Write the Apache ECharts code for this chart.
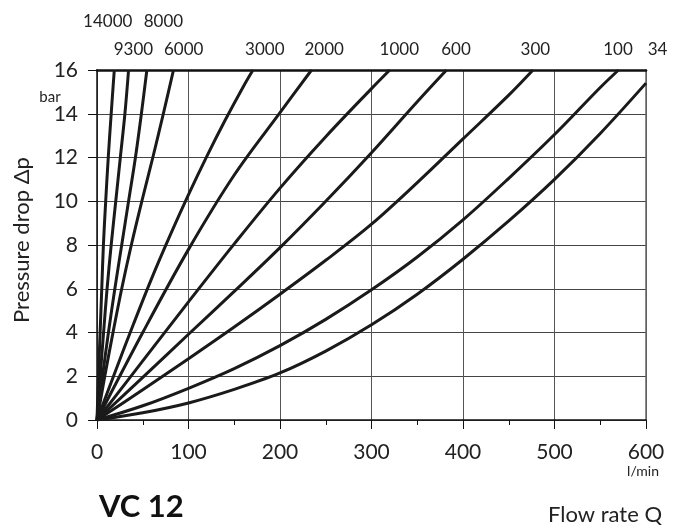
<!DOCTYPE html>
<html><head><meta charset="utf-8">
<script src="https://cdn.jsdelivr.net/npm/echarts@6/dist/echarts.min.js"></script>
<style>html,body{margin:0;padding:0;background:#fff}#c{width:674px;height:529px}</style>
</head><body><div id="c"></div>
<script>
// Viscosity labels (one per curve), left to right
const viscosities = ['14000','9300','8000','6000','3000','2000','1000','600','300','100','34'];
// Curves: [flow rate Q (l/min), pressure drop Δp (bar)]
const c14000 = [[0,0],[1.6,2],[3.4,4],[5.2,6],[7,8],[9.5,10],[12.3,12],[15.5,14],[18.9,16]];
const c9300  = [[0,0],[3.5,2],[7.2,4],[11,6],[15.5,8],[20.5,10],[25.5,12],[30.5,14],[34.5,16]];
const c8000  = [[0,0],[6,2],[12.5,4],[19.5,6],[27,8],[34.5,10],[42,12],[48.5,14],[54.5,16]];
const c6000  = [[0,0],[8.5,2],[17.5,4],[27,6],[37.5,8],[49,10],[61,12],[72.5,14],[83.6,16]];
const c3000  = [[0,0],[20,2.22],[40,4.4],[60,6.5],[80,8.45],[100,10.3],[120,12.05],[140,13.7],[160,15.25],[170.5,16]];
const c2000  = [[0,0],[50,4.0],[100,7.8],[150,11.2],[200,14.05],[234.5,16]];
const c1000  = [[0,0],[50,2.7],[100,5.4],[150,8.05],[200,10.6],[250,12.95],[300,15.15],[320,16]];
const c600   = [[0,0],[50,1.95],[100,3.92],[150,5.88],[200,7.88],[250,10.0],[300,12.22],[350,14.55],[382,16]];
const c300   = [[0,0],[50,1.38],[100,2.8],[150,4.25],[200,5.75],[250,7.3],[300,8.95],[350,10.85],[400,12.85],[450,14.85],[476.5,16]];
const c100   = [[0,0],[50,0.65],[100,1.45],[150,2.35],[200,3.4],[250,4.6],[300,5.95],[350,7.45],[400,9.15],[450,11.05],[500,13.05],[550,15.2],[570,16]];
const c34    = [[0,0],[50,0.33],[100,0.78],[150,1.4],[200,2.15],[250,3.15],[300,4.35],[350,5.75],[400,7.35],[450,9.1],[500,11.0],[550,13.1],[600,15.4]];
const curves = [c14000,c9300,c8000,c6000,c3000,c2000,c1000,c600,c300,c100,c34];

// Layout of the viscosity labels above the plot (pixel positions)
const labelLayout = [[107.7,22],[133.4,50],[163.4,22],[183.7,50],[264.8,50],[324.2,50],[399.3,50],[456,50],[535.4,50],[618,50],[657.6,50]];

const font = 'Lato, "Open Sans", "DejaVu Sans", sans-serif';
const txt = '#222';

const chart = echarts.init(document.getElementById('c'), null, {renderer:'canvas'});

const graphics = viscosities.map((v,i)=>({
  type:'text', x:labelLayout[i][0], y:labelLayout[i][1], silent:true,
  style:{text:v, fill:txt, fontSize:17, fontFamily:font, textAlign:'center', textVerticalAlign:'middle'}
}));
graphics.push(
  {type:'text', x:50, y:97, style:{text:'bar', fill:txt, fontSize:15, fontFamily:font, textAlign:'center', textVerticalAlign:'middle'}},
  {type:'text', x:22, y:240, rotation:Math.PI/2, style:{text:'Pressure drop Δp', fill:txt, fontSize:22, fontFamily:font, textAlign:'center', textVerticalAlign:'middle'}},
  {type:'text', x:659, y:471, style:{text:'l/min', fill:txt, fontSize:14, fontFamily:font, textAlign:'right', textVerticalAlign:'middle'}},
  {type:'text', x:99, y:507, style:{text:'VC 12', fill:'#111', fontSize:31, fontWeight:'bold', fontFamily:font, textAlign:'left', textVerticalAlign:'middle'}},
  {type:'text', x:662, y:515, style:{text:'Flow rate Q', fill:txt, fontSize:22, fontFamily:font, textAlign:'right', textVerticalAlign:'middle'}}
);

const option = {
  animation:false,
  grid:{left:97, right:28, top:70, bottom:109},
  xAxis:[
    {type:'value', min:0, max:600, interval:100,
     axisLine:{onZero:false, lineStyle:{color:'#111', width:1.5}},
     axisTick:{show:true, length:9, lineStyle:{color:'#111', width:1}},
     minorTick:{show:true, splitNumber:2, length:5, lineStyle:{color:'#111', width:1}},
     splitLine:{show:true, lineStyle:{color:'#555', width:1}},
     minorSplitLine:{show:false},
     axisLabel:{color:txt, fontSize:21, fontFamily:font, margin:22}},
    {type:'value', position:'top', min:0, max:600, interval:100,
     axisLine:{show:true, onZero:false, lineStyle:{color:'#111', width:2.5}},
     axisTick:{show:false}, axisLabel:{show:false}, splitLine:{show:false}}
  ],
  yAxis:[
    {type:'value', min:0, max:16, interval:2,
     axisLine:{show:true, onZero:false, lineStyle:{color:'#111', width:1.5}},
     axisTick:{show:true, length:9, lineStyle:{color:'#111', width:1}},
     splitLine:{show:true, lineStyle:{color:'#444', width:1}},
     axisLabel:{color:txt, fontSize:21, fontFamily:font, margin:19}},
    {type:'value', position:'right', min:0, max:16, interval:2,
     axisLine:{show:true, onZero:false, lineStyle:{color:'#666', width:1.5}},
     axisTick:{show:false}, axisLabel:{show:false}, splitLine:{show:false}}
  ],
  series: curves.map((d,i)=>({
    name:viscosities[i], type:'line', data:d, smooth:0.35, showSymbol:false, silent:true,
    clip:true, lineStyle:{color:'#1a1a1a', width:3}
  })),
  graphic: graphics
};
chart.setOption(option);
</script>
</body></html>
